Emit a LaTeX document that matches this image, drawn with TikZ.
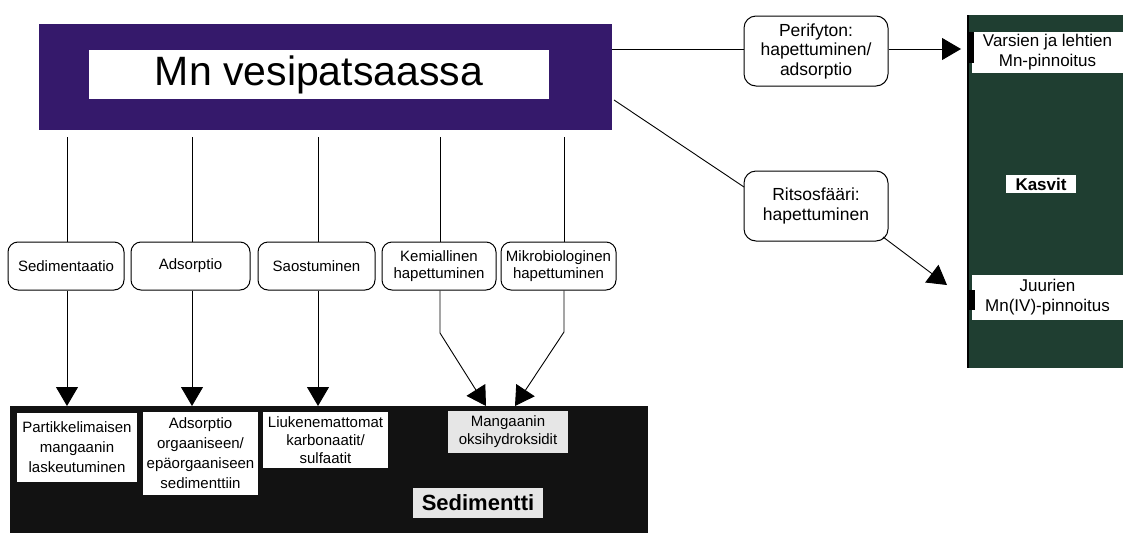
\documentclass[tikz,border=0pt]{standalone}
\usepackage{fontspec}
\setmainfont{Liberation Sans}
\usetikzlibrary{arrows.meta,calc}
\definecolor{purp}{HTML}{35196B}
\definecolor{grn}{HTML}{1F3E31}
\definecolor{blk}{HTML}{121212}
\definecolor{lgray}{HTML}{E6E6E6}
\begin{document}
\begin{tikzpicture}[x=1pt,y=-1pt,
  box/.style={inner sep=0pt, outer sep=0pt, anchor=north west},
  proc/.style={draw=black, line width=1pt, rounded corners=10pt, fill=white, inner sep=0pt, align=center,
    minimum height=48pt, font=\fontsize{15}{17}\selectfont},
  side/.style={draw=black, line width=1pt, rounded corners=12pt, fill=white, inner sep=0pt, align=center,
    minimum width=144pt, minimum height=70pt, font=\fontsize{17.5}{19.5}\selectfont},
  wlab/.style={box, fill=white, align=center, font=\fontsize{15}{20}\selectfont},
  plab/.style={box, fill=white, align=center, font=\fontsize{17}{20}\selectfont},
  conn/.style={line width=0.9pt},
  arr/.style={conn, -{Triangle[length=19pt,width=22pt]}},
]
\useasboundingbox (0,0) rectangle (1123,533);

% water column box
\node[box, fill=purp, minimum width=573pt, minimum height=106pt] (wc) at (39,24) {};
\node[box, fill=white, minimum width=460pt, minimum height=49pt, font=\fontsize{41}{46}\selectfont] (wct) at (89,50) {Mn vesipatsaassa};

% process boxes
\node[proc, minimum width=116pt] (sed) at (66,266) {Sedimentaatio};
\node[proc, minimum width=119pt] (ads) at (190.5,266) {Adsorptio};
\node[proc, minimum width=117pt] (sao) at (316.5,266) {Saostuminen};
\node[proc, minimum width=114pt] (kem) at (439,266) {Kemiallinen\\hapettuminen};
\node[proc, minimum width=115pt] (mik) at (558.5,266) {Mikrobiologinen\\hapettuminen};

% sediment box
\node[box, fill=blk, minimum width=638pt, minimum height=127pt] (sb) at (10,406) {};
\node[wlab, minimum width=120pt, minimum height=69pt] (l1) at (17,413) {Partikkelimaisen\\mangaanin\\laskeutuminen};
\node[wlab, minimum width=115pt, minimum height=83pt] (l2) at (143,412) {Adsorptio\\orgaaniseen/\\epäorgaaniseen\\sedimenttiin};
\node[wlab, minimum width=125pt, minimum height=56pt, font=\fontsize{15}{18}\selectfont] (l3) at (263,412) {Liukenemattomat\\karbonaatit/\\sulfaatit};
\node[wlab, fill=lgray, minimum width=120pt, minimum height=42pt, font=\fontsize{15}{18}\selectfont] (l4) at (448,411) {Mangaanin\\oksihydroksidit};
\node[wlab, fill=lgray, minimum width=130pt, minimum height=30pt, font=\bfseries\fontsize{22}{24}\selectfont] (l5) at (413,488) {Sedimentti};

% side boxes
\node[side] (peri) at (816,51) {Perifyton:\\hapettuminen/\\adsorptio};
\node[side] (rits) at (816,206) {Ritsosfääri:\\hapettuminen};

% plants panel
\node[box, fill=grn, minimum width=155pt, minimum height=353pt] (pl) at (968,15) {};
\draw[line width=2.5pt] (pl.north west) -- (pl.south west);
\node[plab, minimum width=151pt, minimum height=41pt] (p1) at (972,32) {Varsien ja lehtien\\Mn-pinnoitus};
\node[box, fill=white, minimum width=70pt, minimum height=18pt, font=\bfseries\fontsize{17}{18}\selectfont] (p2) at (1006,175) {Kasvit};
\node[plab, minimum width=151pt, minimum height=45pt] (p3) at (972,275) {Juurien\\Mn(IV)-pinnoitus};
\fill (969,32) rectangle (974,63);
\fill (969,290) rectangle (975,310);

% connectors from water column
\coordinate (c1) at (67,137);
\coordinate (c2) at (192,137);
\coordinate (c3) at (318,137);
\coordinate (c4) at (440,137);
\coordinate (c5) at (564,137);
\draw[conn] (c1) -- (c1 |- sed.north);
\draw[conn] (c2) -- (c2 |- ads.north);
\draw[conn] (c3) -- (c3 |- sao.north);
\draw[conn] (c4) -- (c4 |- kem.north);
\draw[conn] (c5) -- (c5 |- mik.north);

% arrows into sediment
\draw[arr] (c1 |- sed.south) -- (c1 |- sb.north);
\draw[arr] (c2 |- ads.south) -- (c2 |- sb.north);
\draw[arr] (c3 |- sao.south) -- (c3 |- sb.north);
\coordinate (kt) at (486,406);
\coordinate (mt) at (515,406);
\draw[arr] (c4 |- kem.south) -- (440,333) -- (kt);
\draw[arr] (c5 |- mik.south) -- (564,332) -- (mt);

% side connectors
\draw[conn] (612,49) -- (peri.west |- 0,49);
\draw[arr] (peri.east |- 0,49) -- ([xshift=-7pt]pl.west |- 0,49);
\draw[conn] (614,100) -- (744,187);
\coordinate (rt) at (947,285);
\draw[arr] (883,237) -- (rt);
\end{tikzpicture}
\end{document}
